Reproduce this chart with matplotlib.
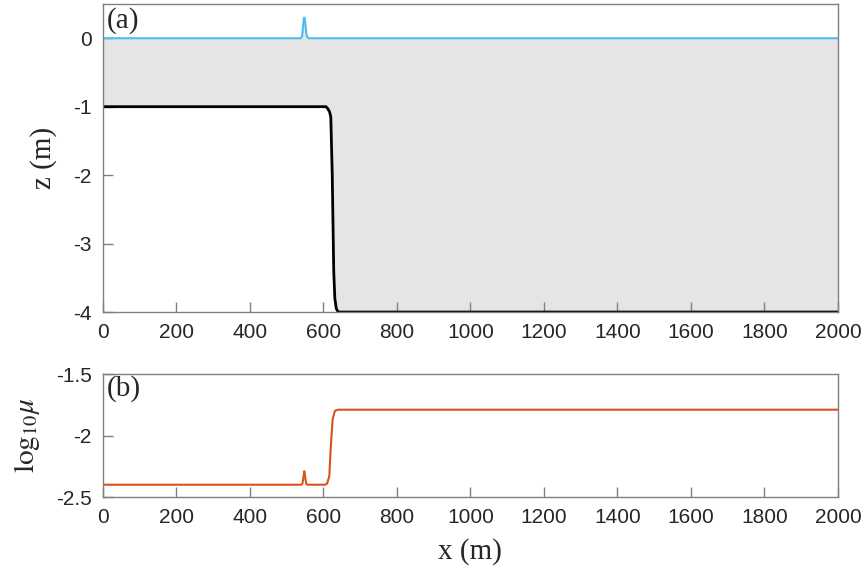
import matplotlib
matplotlib.use("Agg")
import matplotlib.pyplot as plt

# free surface elevation (m)
x_eta = [0, 538, 542, 545, 547, 549, 551, 554, 557, 560, 2000]
eta = [0, 0, 0.03, 0.20, 0.30, 0.30, 0.20, 0.05, 0.01, 0, 0]

# bed elevation (m)
x_bed = [0, 600, 607, 612, 617, 620, 624, 628, 631, 635, 640, 2000]
bed = [-1, -1, -1.0, -1.03, -1.08, -1.15, -2.0, -3.4, -3.8, -3.95, -4, -4]

# log10 of friction coefficient
x_mu = [0, 540, 543, 546, 548, 550, 553, 556, 605, 610, 616, 620, 625, 631, 640, 2000]
logmu = [-2.4, -2.4, -2.39, -2.33, -2.29, -2.33, -2.39, -2.4, -2.4, -2.39,
         -2.33, -2.09, -1.87, -1.80, -1.79, -1.79]

xticks = list(range(0, 2001, 200))

plt.rcParams['mathtext.fontset'] = 'stix'
axcol = '#808080'
tickfont = {'family': 'Liberation Sans', 'size': 15, 'color': '#262626'}
labfont = {'family': 'Liberation Serif', 'size': 21, 'color': '#262626'}

fig = plt.figure(figsize=(8.65, 5.74), dpi=100)
ax1 = fig.add_axes([0.119, 0.4564, 0.8497, 0.5366])
ax2 = fig.add_axes([0.119, 0.1341, 0.8497, 0.2143])

# (a) water column between surface and bed
ax1.fill_between(x_bed, bed, 0, color='#e5e5e5', lw=0)
ax1.fill_between(x_eta, eta, 0, color='#e5e5e5', lw=0)
ax1.plot(x_eta, eta, color='#4DBEEE', lw=1.5)
ax1.plot(x_bed, bed, color='black', lw=2)
ax1.set_xlim(0, 2000)
ax1.set_ylim(-4, 0.5)
ax1.set_yticks([0, -1, -2, -3, -4])
ax1.set_ylabel('z (m)', fontdict=labfont, labelpad=12)
ax1.text(0.005, 0.99, '(a)', transform=ax1.transAxes, ha='left', va='top',
         fontdict=labfont)

# (b) friction coefficient
ax2.plot(x_mu, logmu, color='#D95319', lw=1.5)
ax2.set_xlim(0, 2000)
ax2.set_ylim(-2.5, -1.5)
ax2.set_yticks([-1.5, -2, -2.5])
ax2.set_ylabel(r'$\mathrm{log}_{10}\mu$', fontdict=labfont, labelpad=10)
ax2.set_xlabel('x (m)', fontdict=labfont, labelpad=8)
ax2.text(0.005, 0.99, '(b)', transform=ax2.transAxes, ha='left', va='top',
         fontdict=labfont)

for ax in (ax1, ax2):
    ax.set_xticks(xticks)
    ax.set_xticklabels([str(t) for t in xticks], fontdict=tickfont)
    ax.set_yticklabels([('%g' % t) for t in ax.get_yticks()], fontdict=tickfont)
    ax.tick_params(direction='in', length=7, width=1, color=axcol,
                   top=False, right=False, pad=8)
    for s in ax.spines.values():
        s.set_color(axcol)
        s.set_linewidth(1)

fig.savefig('out.png', dpi=100)
